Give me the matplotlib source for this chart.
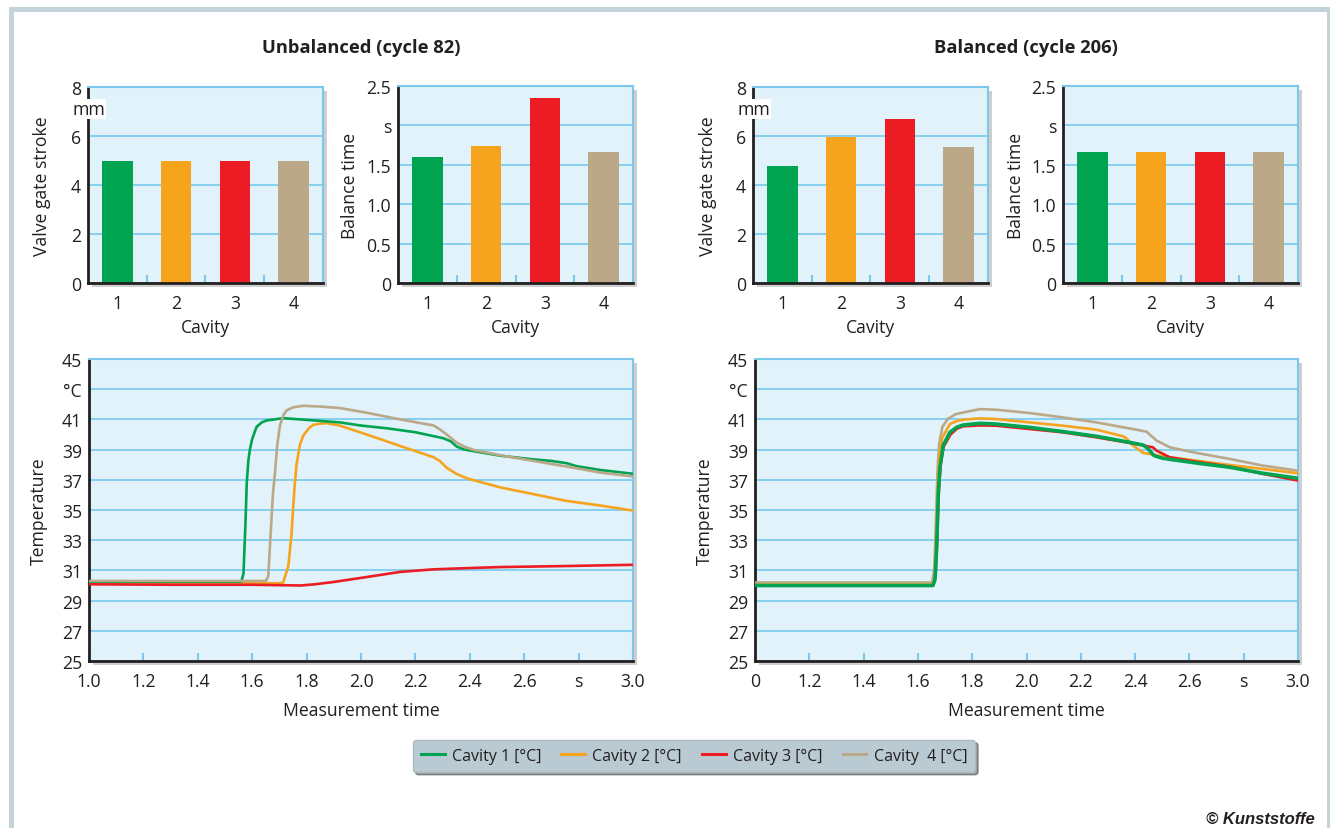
import matplotlib
matplotlib.use('Agg')
import matplotlib.pyplot as plt
from matplotlib import patheffects as pe
from matplotlib.patches import Rectangle
from matplotlib.lines import Line2D
import matplotlib.transforms as mtrans

plt.rcParams['font.family'] = ['Open Sans', 'DejaVu Sans']

# ---------------- data ----------------
cavities = [1, 2, 3, 4]
cavity_labels = ['1', '2', '3', '4']
cavity_colors = ['#00a34f', '#f6a31e', '#ec1c24', '#bba888']
legend_labels = ['Cavity 1 [°C]', 'Cavity 2 [°C]', 'Cavity 3 [°C]', 'Cavity  4 [°C]']

unb_stroke = [5.0, 5.0, 5.0, 5.0]
unb_balance = [1.60, 1.74, 2.35, 1.66]
bal_stroke = [4.78, 5.96, 6.69, 5.55]
bal_balance = [1.66, 1.66, 1.66, 1.66]

stroke_ticks = [0, 2, 4, 6, 8]
stroke_ticklabels = ['0', '2', '4', '6', '8']
balance_ticks = [0, 0.5, 1.0, 1.5, 2.0, 2.5]
balance_ticklabels = ['0', '0.5', '1.0', '1.5', 's', '2.5']
temp_ticks = [25, 27, 29, 31, 33, 35, 37, 39, 41, 43, 45]
temp_ticklabels = ['25', '27', '29', '31', '33', '35', '37', '39', '41', '°C', '45']
time_ticks = [1.0, 1.2, 1.4, 1.6, 1.8, 2.0, 2.2, 2.4, 2.6, 2.8, 3.0]
time_ticklabels_unb = ['1.0', '1.2', '1.4', '1.6', '1.8', '2.0', '2.2', '2.4', '2.6', 's', '3.0']
time_ticklabels_bal = ['0', '1.2', '1.4', '1.6', '1.8', '2.0', '2.2', '2.4', '2.6', 's', '3.0']

# Unbalanced (cycle 82) temperature curves
unb_c1_t = [1.0, 1.56, 1.568, 1.575, 1.580, 1.586, 1.592, 1.60, 1.616, 1.635, 1.653, 1.714, 1.776,
            1.85, 1.923, 1.997, 2.10, 2.20, 2.303, 2.33, 2.352, 2.38, 2.413, 2.511, 2.634, 2.70,
            2.756, 2.793, 2.879, 3.0]
unb_c1_v = [30.25, 30.25, 30.8, 34.0, 36.8, 38.3, 39.05, 39.7, 40.5, 40.8, 40.93, 41.08, 41.0,
            40.9, 40.8, 40.6, 40.4, 40.15, 39.75, 39.55, 39.2, 39.0, 38.9, 38.6, 38.35, 38.25,
            38.1, 37.9, 37.65, 37.4]
unb_c2_t = [1.0, 1.70, 1.714, 1.733, 1.745, 1.751, 1.757, 1.763, 1.775, 1.788, 1.81, 1.825, 1.85,
            1.874, 1.92, 2.021, 2.144, 2.266, 2.29, 2.315, 2.35, 2.389, 2.45, 2.511, 2.634, 2.756,
            2.879, 3.0]
unb_c2_v = [30.15, 30.15, 30.2, 31.3, 33.5, 35.3, 36.8, 38.0, 39.3, 39.93, 40.45, 40.64, 40.72,
            40.75, 40.6, 40.0, 39.24, 38.5, 38.25, 37.8, 37.4, 37.1, 36.8, 36.5, 36.05, 35.6,
            35.3, 34.96]
unb_c3_t = [1.0, 1.3, 1.6, 1.78, 1.83, 1.898, 2.021, 2.144, 2.266, 2.389, 2.511, 2.756, 3.0]
unb_c3_v = [30.08, 30.05, 30.05, 30.0, 30.08, 30.23, 30.56, 30.9, 31.07, 31.15, 31.22, 31.29, 31.37]
unb_c4_t = [1.0, 1.65, 1.659, 1.668, 1.676, 1.684, 1.692, 1.702, 1.715, 1.727, 1.75, 1.788, 1.85,
            1.923, 2.021, 2.144, 2.266, 2.29, 2.315, 2.352, 2.38, 2.413, 2.511, 2.634, 2.756,
            2.879, 3.0]
unb_c4_v = [30.3, 30.3, 30.6, 33.5, 36.0, 37.5, 39.3, 40.6, 41.3, 41.6, 41.8, 41.9, 41.85,
            41.75, 41.44, 41.0, 40.6, 40.34, 40.0, 39.46, 39.2, 38.98, 38.63, 38.25, 37.88,
            37.48, 37.22]

# Balanced (cycle 206) temperature curves
bal_c1_t = [1.0, 1.655, 1.663, 1.669, 1.675, 1.681, 1.693, 1.718, 1.745, 1.767, 1.828, 1.889,
            2.012, 2.135, 2.258, 2.38, 2.43, 2.445, 2.47, 2.503, 2.626, 2.749, 2.871, 3.0]
bal_c1_v = [30.0, 30.0, 30.4, 32.5, 36.0, 37.8, 39.27, 40.15, 40.5, 40.63, 40.74, 40.69,
            40.47, 40.19, 39.88, 39.48, 39.3, 39.1, 38.6, 38.42, 38.11, 37.83, 37.43, 37.1]
bal_c2_t = [1.0, 1.655, 1.662, 1.668, 1.674, 1.68, 1.69, 1.718, 1.745, 1.767, 1.828, 1.889,
            2.012, 2.135, 2.258, 2.356, 2.368, 2.393, 2.43, 2.503, 2.626, 2.749, 2.871, 3.0]
bal_c2_v = [30.05, 30.05, 30.6, 33.5, 37.0, 38.8, 39.8, 40.7, 40.9, 40.98, 41.07, 41.02,
            40.8, 40.58, 40.32, 39.88, 39.75, 39.26, 38.78, 38.55, 38.27, 37.98, 37.72, 37.43]
bal_c3_t = [1.0, 1.657, 1.665, 1.671, 1.677, 1.684, 1.695, 1.72, 1.745, 1.767, 1.828, 1.889,
            2.012, 2.135, 2.258, 2.38, 2.466, 2.479, 2.528, 2.626, 2.749, 2.871, 3.0]
bal_c3_v = [30.0, 30.0, 30.6, 33.0, 36.3, 38.0, 39.2, 40.0, 40.4, 40.54, 40.6, 40.58,
            40.36, 40.14, 39.81, 39.44, 39.15, 38.93, 38.49, 38.2, 37.87, 37.39, 36.95]
bal_c4_t = [1.0, 1.652, 1.66, 1.666, 1.672, 1.678, 1.69, 1.71, 1.74, 1.767, 1.828, 1.889,
            2.012, 2.135, 2.258, 2.38, 2.442, 2.46, 2.479, 2.528, 2.626, 2.749, 2.871, 3.0]
bal_c4_v = [30.2, 30.2, 31.0, 34.0, 37.5, 39.3, 40.5, 41.03, 41.35, 41.46, 41.68, 41.64,
            41.42, 41.13, 40.8, 40.4, 40.19, 39.9, 39.6, 39.15, 38.78, 38.38, 37.94, 37.6]

# ---------------- style ----------------
W, H = 1330, 829
BG = '#e1f2fa'
GRID = '#86d0ef'
BLUE_SP = '#7cc8ea'
DARK = '#231f20'
FS = 12.7

fig = plt.figure(figsize=(W / 100, H / 100), dpi=100)
fig.patch.set_facecolor('white')


def px_axes(x0, y0, x1, y1):
    return fig.add_axes([x0 / W, 1 - y1 / H, (x1 - x0) / W, (y1 - y0) / H])


def style(ax):
    ax.set_facecolor(BG)
    for s in ['top', 'right']:
        ax.spines[s].set_color(BLUE_SP)
        ax.spines[s].set_linewidth(1.5)
    for s in ['left', 'bottom']:
        ax.spines[s].set_color(DARK)
        ax.spines[s].set_linewidth(2.0)
    ax.grid(axis='y', color=GRID, lw=1.4)
    ax.set_axisbelow(True)
    ax.tick_params(axis='y', length=0, pad=5, labelsize=FS, colors=DARK)
    ax.patch.set_path_effects([pe.SimplePatchShadow(offset=(3, -3), shadow_rgbFace='#777777', alpha=0.35),
                               pe.Normal()])


def bar_chart(ax, values, ylim, ticks, ticklabels, ylabel, unit_mm=False, label_x=-0.16):
    style(ax)
    ax.bar(cavities, values, width=0.52, color=cavity_colors, zorder=2)
    ax.set_xlim(0.5, 4.5)
    ax.set_ylim(*ylim)
    ax.set_yticks(ticks)
    ax.set_yticklabels(ticklabels)
    ax.set_xticks(cavities)
    ax.set_xticklabels(cavity_labels)
    ax.set_xticks([1.5, 2.5, 3.5], minor=True)
    ax.tick_params(axis='x', which='major', length=0, pad=8, labelsize=FS, colors=DARK)
    ax.tick_params(axis='x', which='minor', direction='in', length=6, width=1.5, color=BLUE_SP)
    ax.set_xlabel('Cavity', fontsize=FS, color=DARK)
    ax.xaxis.set_label_coords(0.5, -0.18)
    ax.set_ylabel(ylabel, fontsize=FS, color=DARK)
    ax.yaxis.set_label_coords(label_x, 0.5)
    if unit_mm:
        tr = mtrans.blended_transform_factory(ax.transAxes, ax.transData)
        ax.text(-0.068, 7.12, 'mm', transform=tr, ha='left', va='center', fontsize=FS, color=DARK,
                bbox=dict(fc='white', ec='none', pad=0.8), zorder=5, clip_on=False)


def line_chart(ax, series, xticklabels):
    style(ax)
    for (t, v), c, lw in series:
        ax.plot(t, v, color=c, lw=lw, solid_capstyle='butt', zorder=3)
    ax.set_xlim(1.0, 3.0)
    ax.set_ylim(25, 45)
    ax.set_yticks(temp_ticks)
    ax.set_yticklabels(temp_ticklabels)
    ax.set_xticks(time_ticks)
    ax.set_xticklabels(xticklabels)
    ax.tick_params(axis='x', direction='in', length=6, width=1.5, color=BLUE_SP, pad=8,
                   labelsize=FS, labelcolor=DARK)
    ax.set_xlabel('Measurement time', fontsize=FS, color=DARK)
    ax.xaxis.set_label_coords(0.5, -0.132)
    ax.set_ylabel('Temperature', fontsize=FS, color=DARK)
    ax.yaxis.set_label_coords(-0.075, 0.5)


# top bar charts
ax1 = px_axes(88, 88, 323, 284)
bar_chart(ax1, unb_stroke, (0, 8), stroke_ticks, stroke_ticklabels, 'Valve gate stroke', unit_mm=True, label_x=-0.157)
ax2 = px_axes(398, 87, 633, 284)
bar_chart(ax2, unb_balance, (0, 2.5), balance_ticks, balance_ticklabels, 'Balance time', label_x=-0.166)
ax3 = px_axes(753, 88, 988, 284)
bar_chart(ax3, bal_stroke, (0, 8), stroke_ticks, stroke_ticklabels, 'Valve gate stroke', unit_mm=True, label_x=-0.153)
ax4 = px_axes(1063, 87, 1298, 284)
bar_chart(ax4, bal_balance, (0, 2.5), balance_ticks, balance_ticklabels, 'Balance time', label_x=-0.162)

# line charts
ax5 = px_axes(89, 360, 633, 662)
line_chart(ax5, [((unb_c2_t, unb_c2_v), cavity_colors[1], 1.9),
                 ((unb_c3_t, unb_c3_v), cavity_colors[2], 1.9),
                 ((unb_c1_t, unb_c1_v), cavity_colors[0], 1.9),
                 ((unb_c4_t, unb_c4_v), cavity_colors[3], 1.9)], time_ticklabels_unb)
ax6 = px_axes(755, 360, 1298, 662)
line_chart(ax6, [((bal_c4_t, bal_c4_v), cavity_colors[3], 1.9),
                 ((bal_c2_t, bal_c2_v), cavity_colors[1], 1.9),
                 ((bal_c3_t, bal_c3_v), cavity_colors[2], 1.9),
                 ((bal_c1_t, bal_c1_v), cavity_colors[0], 2.6)], time_ticklabels_bal)

# titles
fig.text(361 / W, 1 - 48 / H, 'Unbalanced (cycle 82)', ha='center', va='center', fontsize=13.2,
         fontweight='bold', color=DARK)
fig.text(1026 / W, 1 - 48 / H, 'Balanced (cycle 206)', ha='center', va='center', fontsize=13.2,
         fontweight='bold', color=DARK)

# legend
handles = [Line2D([0], [0], color=c, lw=2.2) for c in cavity_colors]
leg = fig.legend(handles, legend_labels, loc='center', bbox_to_anchor=(694 / W, 1 - 757 / H), ncol=4,
                 frameon=True, fancybox=True, shadow=True, facecolor='#b9cad3', edgecolor='#a9bac3',
                 fontsize=11.5, handlelength=1.5, handletextpad=0.45, columnspacing=1.25,
                 borderpad=0.5, borderaxespad=0, framealpha=1)
for txt in leg.get_texts():
    txt.set_color(DARK)

# copyright
fig.text(1315 / W, 1 - 820 / H, '© Kunststoffe', ha='right', va='center', fontsize=12,
         fontweight='bold', style='italic', color=DARK,
         family=['Liberation Sans Narrow', 'Liberation Sans', 'DejaVu Sans'])

# outer frame
fig.add_artist(Rectangle((10.5 / W, -0.1), (1329 - 10.5) / W, 1 - 9.5 / H + 0.1,
                         transform=fig.transFigure, fill=False, ec='#c4d2da', lw=3.6, zorder=-1))

fig.savefig('out.png', dpi=100, facecolor='white')
